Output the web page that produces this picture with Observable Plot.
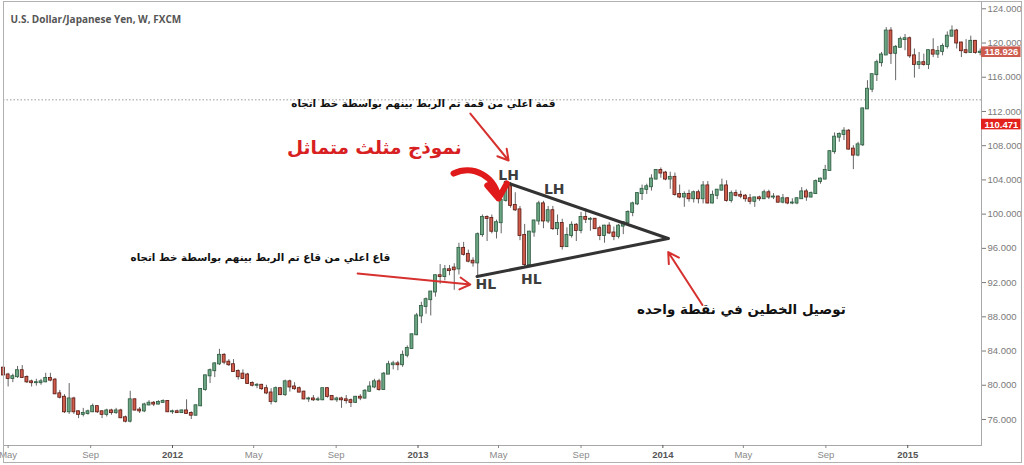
<!DOCTYPE html>
<html><head><meta charset="utf-8">
<script src="https://cdn.jsdelivr.net/npm/d3@7"></script>
<script src="https://cdn.jsdelivr.net/npm/@observablehq/plot@0.6"></script>
<style>
body{margin:0;background:#fff;}
#wrap{position:relative;width:1024px;height:465px;overflow:hidden;background:#fff;}
</style></head><body><div id="wrap"></div>
<script>
// Weekly USD/JPY candles, first week starting 2011-04-24
const firstWeek = "2011-04-24";
const open = [82.0,81.2,80.8,81.0,81.7,80.9,80.4,80.3,80.3,80.4,80.8,80.6,79.0,78.6,76.9,78.4,76.9,76.6,76.7,76.9,77.5,76.9,76.6,77.0,76.8,77.0,76.2,75.8,78.3,77.1,77.0,77.7,77.9,77.8,78.0,78.1,76.9,76.9,76.8,77.0,76.7,76.5,77.6,79.5,81.1,81.7,82.5,83.5,82.7,82.4,81.6,81.3,81.2,80.2,80.0,80.0,79.6,79.1,78.1,79.6,78.9,80.4,79.8,79.6,79.2,78.4,78.4,78.3,78.3,79.6,78.7,78.3,78.4,78.3,78.2,78.0,78.6,78.5,79.3,79.8,80.4,79.5,81.3,82.4,82.5,82.4,83.5,84.3,85.9,88.1,89.2,90.0,90.9,92.8,92.7,93.5,93.7,93.6,96.0,95.3,94.5,94.3,97.6,99.6,99.5,98.0,99.0,101.6,103.2,101.0,100.5,97.5,94.1,97.9,99.2,101.2,99.2,100.4,98.3,98.9,96.2,97.5,98.7,98.1,99.6,99.4,99.4,98.3,97.5,98.6,97.8,97.4,98.6,99.0,100.2,101.2,102.4,102.9,103.2,104.1,105.1,104.8,104.1,104.3,102.3,102.0,102.3,101.8,102.5,101.8,103.3,101.3,102.2,102.8,103.3,101.6,102.4,102.2,102.1,101.8,101.5,101.9,101.8,102.5,102.0,102.0,101.4,101.8,101.3,101.3,101.8,102.6,102.0,102.4,103.8,104.1,105.1,107.3,109.0,109.3,109.7,107.6,106.9,108.1,112.3,114.6,116.3,117.7,118.6,121.4,118.8,119.5,120.4,120.5,118.5,117.5,117.7,117.5,119.1,118.7,119.0,119.6,120.8,121.4,120.0,119.1,118.9,120.2,118.9];
const high = [82.3,81.4,81.3,82.2,82.3,81.1,80.6,80.7,80.7,81.4,81.4,80.8,79.4,78.9,80.2,78.6,77.0,77.3,77.1,77.8,77.6,77.0,77.2,77.2,77.3,77.2,76.4,79.3,78.4,77.4,77.9,78.2,78.1,78.2,78.3,78.2,77.1,77.1,77.1,78.3,76.9,77.7,79.6,81.2,81.9,82.6,84.2,83.7,83.0,83.0,81.8,81.8,81.4,80.4,80.2,80.1,80.0,79.6,79.8,79.7,80.6,80.6,80.3,79.8,79.3,78.6,78.8,78.6,79.6,79.7,78.8,78.6,78.6,78.8,78.4,78.7,78.9,79.5,80.4,80.7,80.7,81.5,82.8,82.8,82.8,84.0,84.6,86.0,88.4,89.7,90.2,90.9,92.9,94.1,94.0,94.0,94.2,96.6,96.7,95.8,94.9,97.8,99.9,99.8,99.9,99.3,101.9,103.3,103.7,102.5,100.9,98.8,98.0,99.3,101.5,101.5,100.9,100.9,99.9,99.4,98.4,99.1,98.9,100.2,100.6,99.6,99.5,98.6,98.7,99.0,98.5,98.8,99.1,100.4,101.4,102.5,103.4,103.5,104.6,105.2,105.4,105.0,104.9,104.8,103.4,102.6,102.8,102.7,102.8,103.8,103.8,102.7,102.9,104.1,103.9,102.7,102.8,102.7,102.3,102.3,101.9,102.1,102.8,102.8,102.4,102.1,102.3,101.9,101.8,101.9,103.1,102.9,102.6,104.0,104.2,105.7,107.4,109.5,109.5,110.1,109.9,108.0,108.4,112.4,115.6,116.3,118.0,118.9,121.8,121.8,119.7,120.7,121.0,120.7,119.3,118.9,118.7,119.2,120.5,119.6,119.9,121.3,122.0,121.6,120.1,120.4,120.8,120.3,119.3];
const low = [81.1,79.8,80.3,80.8,80.8,80.2,79.8,79.9,80.0,80.3,80.4,78.9,78.4,76.7,76.6,76.6,76.1,76.3,76.5,76.8,76.7,76.1,76.3,76.5,76.6,76.1,75.6,75.6,77.0,76.7,76.8,77.6,77.5,77.7,77.9,76.9,76.6,76.7,76.7,76.6,76.0,76.4,77.5,79.3,80.2,80.9,82.3,82.4,82.2,81.5,80.6,80.7,80.1,79.8,79.6,79.4,78.9,77.7,77.9,78.8,78.7,79.2,79.4,79.1,78.3,78.0,78.1,78.1,78.2,78.5,78.2,78.0,77.3,77.8,77.4,77.9,78.2,78.4,79.2,79.6,79.3,79.4,81.3,81.8,81.7,82.1,83.2,84.2,85.8,87.2,88.3,88.1,90.3,91.8,92.2,92.8,91.1,92.9,95.1,94.3,93.8,92.6,97.3,96.8,97.7,97.1,97.7,101.4,100.7,100.3,96.9,93.8,93.9,97.3,98.7,98.3,98.9,98.1,97.5,95.8,96.1,97.2,96.8,97.7,98.9,98.0,98.2,96.9,96.6,97.6,96.9,97.1,97.6,98.8,99.7,101.0,101.6,102.3,102.7,104.0,104.2,103.9,102.9,102.1,101.8,100.8,101.4,101.3,101.2,101.2,101.2,101.2,101.7,102.8,101.4,101.3,102.0,101.8,101.4,101.1,100.8,101.5,101.7,101.7,101.7,101.3,101.2,101.1,101.1,101.1,101.8,101.5,101.9,102.3,103.5,104.0,105.1,107.0,108.4,108.6,107.5,105.2,106.7,107.9,112.3,114.2,115.5,117.2,118.6,117.5,115.6,119.5,119.1,118.2,115.9,116.9,117.3,116.9,118.3,118.2,118.5,119.3,120.7,119.3,118.3,118.7,118.8,118.7,118.5];
const close = [81.2,80.8,81.0,81.7,80.9,80.4,80.3,80.3,80.4,80.8,80.6,79.0,78.6,76.9,78.4,76.9,76.6,76.7,76.9,77.5,76.9,76.6,77.0,76.8,77.0,76.2,75.8,78.3,77.1,77.0,77.7,77.9,77.8,78.0,78.1,76.9,76.9,76.8,77.0,76.7,76.5,77.6,79.5,81.1,81.7,82.5,83.5,82.7,82.4,81.6,81.0,80.8,80.2,80.0,80.0,79.6,79.1,78.1,79.6,78.9,80.4,79.8,79.6,79.2,78.4,78.4,78.3,78.3,79.6,78.7,78.3,78.4,78.3,78.2,78.0,78.6,78.5,79.3,79.8,80.4,79.5,81.3,82.4,82.5,82.4,83.5,84.3,85.9,88.1,89.2,90.0,90.9,92.8,92.7,93.5,93.4,93.5,96.0,95.3,94.5,94.3,97.6,99.6,99.5,98.0,99.0,101.6,103.2,101.0,100.5,97.5,94.1,97.9,99.2,101.2,99.2,100.4,98.3,98.9,96.2,97.5,98.7,98.1,99.6,99.4,99.4,98.3,97.5,98.6,97.8,97.4,98.6,99.0,100.2,101.2,102.4,102.9,103.2,104.1,105.1,104.8,104.1,104.3,102.3,102.0,102.3,101.8,102.5,101.8,103.3,101.3,102.2,102.8,103.3,101.6,102.4,102.2,102.1,101.8,101.5,101.9,101.8,102.5,102.0,102.0,101.4,101.8,101.3,101.3,101.8,102.6,102.0,102.4,103.8,104.1,105.1,107.3,109.0,109.3,109.7,107.6,106.9,108.1,112.3,114.6,116.3,117.7,118.6,121.4,118.8,119.5,120.4,120.5,118.5,117.5,117.7,117.5,119.1,118.7,119.0,119.6,120.8,121.4,120.0,119.1,118.9,120.2,118.9,118.926];

// Axis ticks
const priceTicks = [76,80,84,88,92,96,100,104,108,112,116,120,124];
const monthTicks = ["2011-05-01","2011-09-01","2012-05-01","2012-09-01","2013-05-01","2013-09-01","2014-05-01","2014-09-01"];
const yearTicks = ["2012-01-01","2013-01-01","2014-01-01","2015-01-01"];

// Price tags on the right axis
const tagValues = [118.926, 110.471];
const tagColors = ["#cd5c4e", "#e3211c"];
const crossPrice = [113.36];

// Annotations (data coordinates)
const headline = [{date:"2012-10-28", price:107.67, text:"نموذج مثلث متماثل"}];
const notes = [
  {date:"2013-01-09", price:112.93, text:"قمة اعلي من قمة تم الربط بينهم بواسطة خط اتجاه"},
  {date:"2012-05-11", price:94.93, text:"قاع اعلي من قاع تم الربط بينهم بواسطة خط اتجاه"}
];
const noteApex = [{date:"2014-04-28", price:88.86, text:"توصيل الخطين في نقطة واحده"}];
const swingLabels = [
  {date:"2013-05-16", price:104.5, text:"LH"},
  {date:"2013-07-23", price:102.88, text:"LH"},
  {date:"2013-04-12", price:91.77, text:"HL"},
  {date:"2013-06-19", price:92.35, text:"HL"}
];
const upperLine = [{date:"2013-05-11", price:103.73},{date:"2014-01-09", price:97.15}];
const lowerLine = [{date:"2013-03-30", price:92.71},{date:"2014-01-09", price:97.15}];
const straightArrows = [
  {d1:"2013-03-20", p1:111.76, d2:"2013-05-16", p2:106.27},
  {d1:"2012-10-03", p1:93.06, d2:"2013-03-20", p2:91.78},
  {d1:"2014-03-01", p1:89.38, d2:"2014-01-09", p2:95.56}
];
const curvedArrow = [{d1:"2013-02-23", p1:104.75, d2:"2013-05-01", p2:101.83}];

const D = s => new Date(s);
const candles = close.map((c, i) => ({
  date: d3.utcWeek.offset(D(firstWeek), i), open: open[i], high: high[i], low: low[i], close: c
}));
const up = d => d.close >= d.open;
const xStart = D("2011-04-24T02:00Z"), xEnd = D("2015-04-21");
const tags = tagValues.map((v, i) => ({value: v, color: tagColors[i]}));
const pt = a => a.map(d => ({...d, date: D(d.date)}));
const arr = a => a.map(d => ({...d, d1: D(d.d1), d2: D(d.d2)}));

const chart = Plot.plot({
  width: 1024, height: 465,
  marginLeft: 3, marginRight: 43, marginTop: 1, marginBottom: 20,
  x: {type: "utc", domain: [xStart, xEnd]},
  y: {domain: [72.96, 124.853]},
  style: {fontFamily: "'Liberation Sans', Arial, sans-serif", background: "#fff", overflow: "visible"},
  marks: [
    Plot.ruleY(crossPrice, {stroke: "#9a9a9a", strokeDasharray: "1.5,2", strokeWidth: 1}),
    Plot.ruleX(candles, {x: "date", y1: "low", y2: "high", stroke: "#666", strokeWidth: 1}),
    Plot.rect(candles, {
      x1: d => d3.utcHour.offset(d.date, -53), x2: d => d3.utcHour.offset(d.date, 53),
      y1: "open", y2: "close", insetTop: -0.5, insetBottom: -0.5,
      fill: d => up(d) ? "#6ba583" : "#cf5b4a",
      stroke: d => up(d) ? "#2b5a3e" : "#5b1a13", strokeWidth: 0.8
    }),
    Plot.line(pt(upperLine), {x: "date", y: "price", stroke: "#333", strokeWidth: 3}),
    Plot.line(pt(lowerLine), {x: "date", y: "price", stroke: "#333", strokeWidth: 3}),
    Plot.arrow(arr(straightArrows), {x1: "d1", y1: "p1", x2: "d2", y2: "p2", stroke: "#d6312f", strokeWidth: 2, headLength: 9}),
    Plot.arrow(arr(curvedArrow), {x1: "d1", y1: "p1", x2: "d2", y2: "p2", stroke: "#e0191a", strokeWidth: 6, headLength: 13, headAngle: 70, bend: 55}),
    Plot.text(pt(headline), {x: "date", y: "price", text: "text", fill: "#d7201f", fontSize: 18.5, fontWeight: "bold", fontFamily: "'DejaVu Sans'"}),
    Plot.text(pt(notes), {x: "date", y: "price", text: "text", fill: "#111", fontSize: 10.3, fontWeight: "bold", fontFamily: "'DejaVu Sans'"}),
    Plot.text(pt(noteApex), {x: "date", y: "price", text: "text", fill: "#111", fontSize: 13.4, fontWeight: "bold", fontFamily: "'DejaVu Sans'"}),
    Plot.text(pt(swingLabels), {x: "date", y: "price", text: "text", fill: "#3d3d3d", fontSize: 14, fontWeight: "bold", fontFamily: "'DejaVu Sans'"}),
    Plot.frame({stroke: "#a8a8a8"}),
    Plot.axisY(priceTicks, {anchor: "right", tickFormat: d3.format(".3f"), tickSize: 4, tickPadding: 2, fontSize: 9.5, color: "#7a7a7a"}),
    Plot.axisX(monthTicks.map(D), {tickFormat: d3.utcFormat("%b"), tickSize: 3, tickPadding: 3, fontSize: 9.5, color: "#8a8a8a"}),
    Plot.axisX(yearTicks.map(D), {tickFormat: d3.utcFormat("%Y"), tickSize: 3, tickPadding: 3, fontSize: 9.5, fontWeight: "bold", color: "#555"}),
    Plot.rect(tags, {x1: xEnd, x2: d3.utcDay.offset(xEnd, 59), y1: d => d.value - 0.62, y2: d => d.value + 0.62, fill: "color"}),
    Plot.text(tags, {x: xEnd, y: "value", text: d => d3.format(".3f")(d.value), dx: 3, textAnchor: "start", fill: "white", fontSize: 9.5, fontWeight: "bold"}),
    Plot.text(["U.S. Dollar/Japanese Yen, W, FXCM"], {frameAnchor: "top-left", dx: 7, dy: 14, text: d => d, textAnchor: "start", fill: "#555", fontSize: 10, fontWeight: "bold", fontFamily: "'Open Sans'"})
  ]
});
d3.select(chart).append("rect").attr("x", 3.5).attr("y", 1.5).attr("width", 1018).attr("height", 461)
  .attr("fill", "none").attr("stroke", "#b0b0b0");
document.getElementById("wrap").append(chart);
</script>
</body></html>
